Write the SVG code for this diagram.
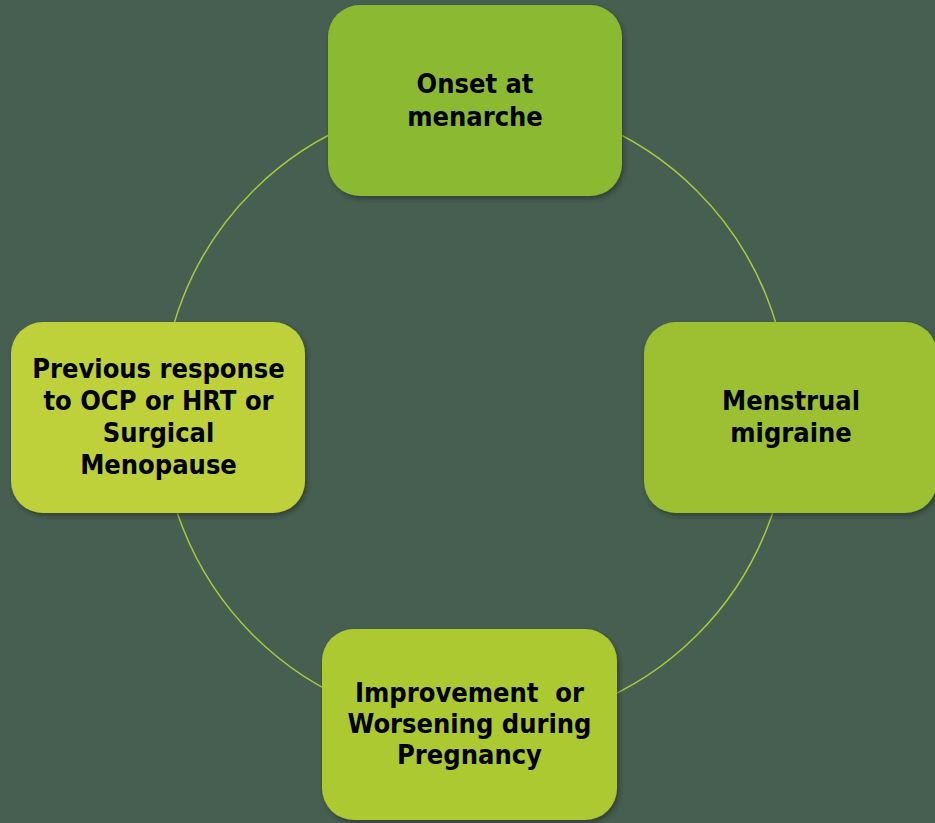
<svg xmlns="http://www.w3.org/2000/svg" width="935" height="823" viewBox="0 0 935 823">
<defs>
<filter id="sh" x="-10%" y="-10%" width="125%" height="130%">
<feDropShadow dx="2" dy="3" stdDeviation="2.5" flood-color="#1e2a22" flood-opacity="0.55"/>
</filter>
<style>
.box{filter:url(#sh);}
.lbl{font-family:"DejaVu Sans Condensed","DejaVu Sans","Liberation Sans",sans-serif;font-stretch:condensed;font-weight:bold;font-size:27px;fill:#000;text-anchor:middle;white-space:pre;}
.ring{fill:none;stroke:#a9c93c;stroke-width:1.5;}
</style>
</defs>
<rect x="0" y="0" width="935" height="823" fill="#475f51"/>
<g id="connectors">
<circle class="ring" cx="475" cy="413" r="314"/>
</g>
<g id="node-onset">
<rect class="box" x="328" y="5" width="294" height="191" rx="32" fill="#8cb932"/>
<text class="lbl" x="475" y="93">Onset at</text>
<text class="lbl" x="475" y="126">menarche</text>
</g>
<g id="node-menstrual">
<rect class="box" x="644" y="322" width="293" height="191" rx="32" fill="#9cc031"/>
<text class="lbl" x="791" y="410">Menstrual</text>
<text class="lbl" x="791" y="442">migraine</text>
</g>
<g id="node-pregnancy">
<rect class="box" x="322" y="629" width="295" height="191" rx="32" fill="#adc933"/>
<text class="lbl" x="469.5" y="702" xml:space="preserve">Improvement  or</text>
<text class="lbl" x="469.5" y="733">Worsening during</text>
<text class="lbl" x="469.5" y="764">Pregnancy</text>
</g>
<g id="node-previous">
<rect class="box" x="11" y="322" width="294" height="191" rx="32" fill="#bed13a"/>
<text class="lbl" x="158.5" y="378">Previous response</text>
<text class="lbl" x="158.5" y="410">to OCP or HRT or</text>
<text class="lbl" x="158.5" y="442">Surgical</text>
<text class="lbl" x="158.5" y="474">Menopause</text>
</g>
</svg>
